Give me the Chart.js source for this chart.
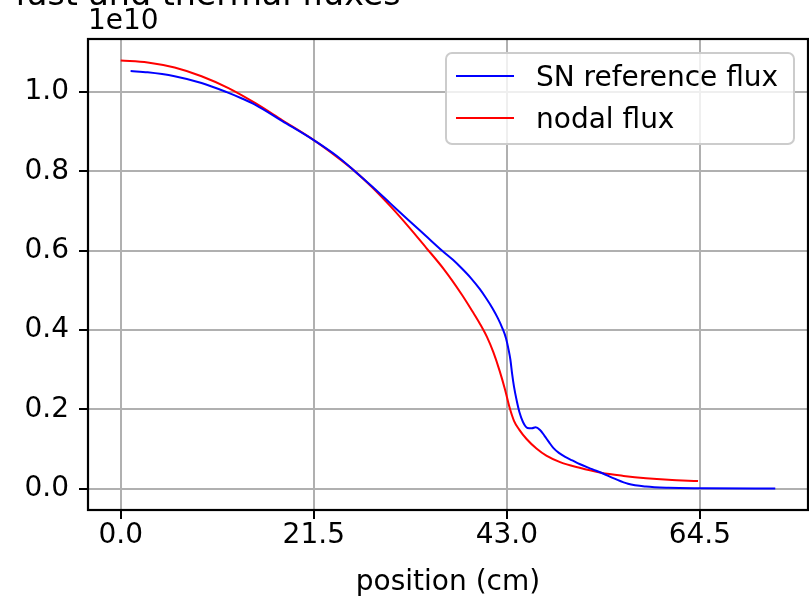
<!DOCTYPE html>
<html>
<head>
    <title>fast and thermal fluxes</title>
    <script src="https://cdn.jsdelivr.net/npm/chart.js"></script>
    <style>
        body { margin: 0; background: #fff; }
        #wrap { width: 809px; height: 598px; }
    </style>
</head>
<body>
    <div id="wrap"><canvas id="fluxChart" width="809" height="598"></canvas></div>

    <script>
        // values in units of 1e10
        const snX = [1.1, 3, 6, 9, 11.8, 13.5, 15, 18, 21.5, 24, 26.1, 28, 30, 32, 34, 35.8, 37, 38, 39, 40, 40.7,
                     41.4, 42, 42.5, 42.9, 43.2, 43.4, 43.6, 43.8, 44.1, 44.4, 44.8, 45.3, 45.8, 46.2, 46.7, 47.2, 47.7,
                     48.2, 48.8, 49.5, 50.3, 51.1, 52.5, 53.7, 55, 56.5, 58.5, 61, 65, 72.9];
        const snFlux = [1.053, 1.050, 1.040, 1.023, 1.000, 0.984, 0.968, 0.927, 0.879, 0.840, 0.800, 0.762, 0.720, 0.678, 0.637, 0.600, 0.577, 0.555, 0.531, 0.503, 0.480,
                        0.455, 0.430, 0.405, 0.380, 0.350, 0.325, 0.288, 0.257, 0.222, 0.193, 0.168, 0.153, 0.152, 0.155, 0.148, 0.133, 0.117,
                        0.102, 0.090, 0.080, 0.071, 0.062, 0.049, 0.038, 0.025, 0.012, 0.005, 0.002, 0.001, 0.000];

        const nodalX = [0, 3, 6, 9, 12, 15, 18, 21.5, 24, 26, 28, 30, 32, 34, 36, 38, 39.2, 40, 40.8, 41.5,
                        42.2, 42.8, 43.3, 43.8, 44.4, 45.2, 46.3, 47.4, 49, 51, 53.5, 56, 58.5, 61, 64.3];
        const nodalFlux = [1.080, 1.075, 1.062, 1.040, 1.010, 0.972, 0.929, 0.879, 0.838, 0.802, 0.760, 0.713, 0.662, 0.608, 0.553, 0.489, 0.446, 0.416, 0.382, 0.344,
                           0.297, 0.250, 0.205, 0.171, 0.148, 0.125, 0.101, 0.083, 0.066, 0.053, 0.040, 0.032, 0.026, 0.022, 0.019];

        const xTicks = [0, 21.5, 43.0, 64.5];
        const yTicks = [0, 0.2, 0.4, 0.6, 0.8, 1.0];
        const seriesNames = ['SN reference flux', 'nodal flux'];
        const seriesColors = ['#0000ff', '#ff0000'];

        const font = 'DejaVu Sans';

        const toPoints = (xs, ys) => xs.map((x, i) => ({ x: x, y: ys[i] }));

        // title, offset text, frame and legend drawn the matplotlib way
        const extras = {
            id: 'extras',
            afterDatasetsDraw(chart) {
                const ctx = chart.ctx;
                const a = chart.chartArea;
                ctx.save();
                ctx.strokeStyle = '#000';
                ctx.lineWidth = 2.2;
                ctx.strokeRect(a.left, a.top, a.right - a.left, a.bottom - a.top);

                // legend box
                const bx = 446, by = 53, bw = 348, bh = 91, r = 6;
                ctx.beginPath();
                ctx.roundRect(bx, by, bw, bh, r);
                ctx.fillStyle = 'rgba(255,255,255,0.8)';
                ctx.fill();
                ctx.strokeStyle = '#cccccc';
                ctx.lineWidth = 2;
                ctx.stroke();

                ctx.font = '28px "' + font + '"';
                ctx.textAlign = 'left';
                ctx.textBaseline = 'alphabetic';
                seriesNames.forEach((name, i) => {
                    const ly = 76 + i * 42;
                    ctx.beginPath();
                    ctx.moveTo(456, ly);
                    ctx.lineTo(514, ly);
                    ctx.strokeStyle = seriesColors[i];
                    ctx.lineWidth = 2;
                    ctx.stroke();
                    ctx.fillStyle = '#000';
                    ctx.fillText(name, 536, 86 + i * 41.5);
                });

                ctx.fillText('1e10', a.left, 29);

                ctx.font = '33.3px "' + font + '"';
                ctx.textAlign = 'center';
                ctx.fillText('fast and thermal fluxes', 208, 5);
                ctx.restore();
            }
        };

        const ctx = document.getElementById('fluxChart').getContext('2d');
        new Chart(ctx, {
            type: 'line',
            data: {
                datasets: [{
                    label: seriesNames[0],
                    data: toPoints(snX, snFlux),
                    borderColor: seriesColors[0],
                    borderWidth: 2,
                    pointRadius: 0,
                    cubicInterpolationMode: 'monotone',
                    fill: false
                }, {
                    label: seriesNames[1],
                    data: toPoints(nodalX, nodalFlux),
                    borderColor: seriesColors[1],
                    borderWidth: 2,
                    pointRadius: 0,
                    cubicInterpolationMode: 'monotone',
                    fill: false
                }]
            },
            options: {
                responsive: false,
                animation: false,
                layout: { padding: { top: 39, right: 1, left: 0, bottom: 0 } },
                plugins: {
                    legend: { display: false },
                    tooltip: { enabled: false }
                },
                scales: {
                    x: {
                        type: 'linear',
                        min: -3.645,
                        max: 76.545,
                        afterBuildTicks: scale => { scale.ticks = xTicks.map(v => ({ value: v })); },
                        afterFit: scale => { scale.height = 88; },
                        ticks: {
                            callback: v => v.toFixed(1),
                            font: { family: font, size: 28 },
                            color: '#000',
                            padding: 0,
                            maxRotation: 0
                        },
                        grid: { color: '#b0b0b0', lineWidth: 2, tickColor: '#000', tickLength: 9, tickWidth: 2 },
                        border: { display: false },
                        title: {
                            display: true,
                            text: 'position (cm)',
                            font: { family: font, size: 28, lineHeight: 1.0 },
                            color: '#000',
                            padding: { top: 0, bottom: 1 }
                        }
                    },
                    y: {
                        min: -0.054,
                        max: 1.134,
                        afterBuildTicks: scale => { scale.ticks = yTicks.map(v => ({ value: v })); },
                        afterFit: scale => { scale.width = 88; },
                        ticks: {
                            callback: v => v.toFixed(1),
                            font: { family: font, size: 28 },
                            color: '#000',
                            padding: 10
                        },
                        grid: { color: '#b0b0b0', lineWidth: 2, tickColor: '#000', tickLength: 9, tickWidth: 2 },
                        border: { display: false }
                    }
                }
            },
            plugins: [extras]
        });
    </script>
</body>
</html>
